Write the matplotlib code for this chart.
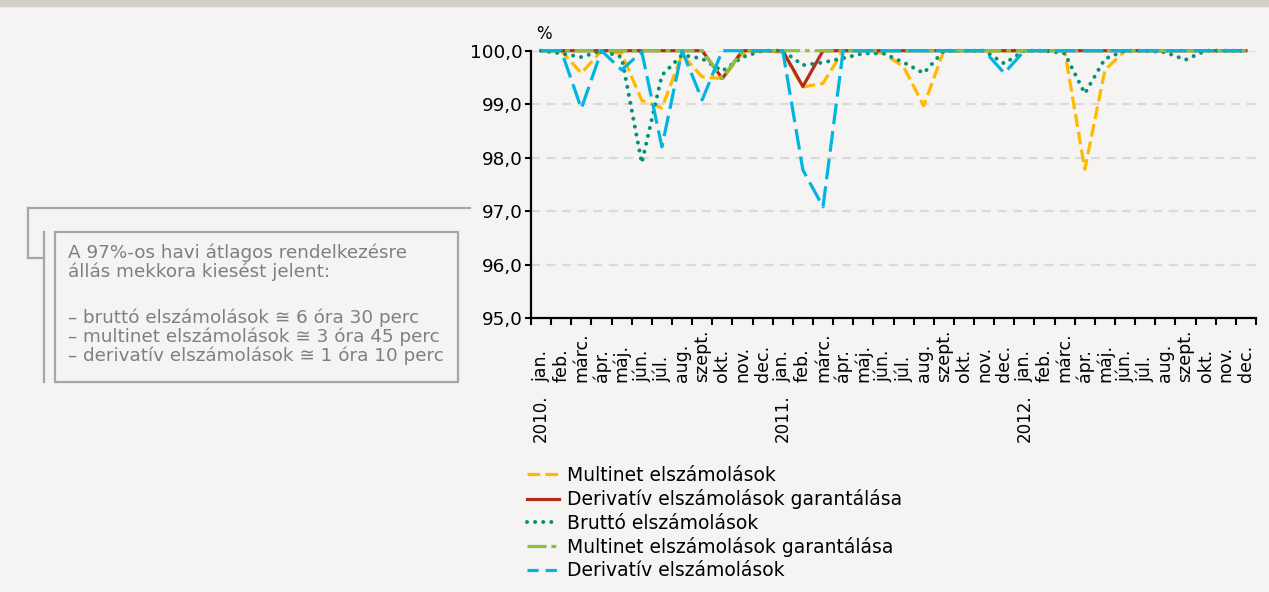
import matplotlib.pyplot as plt
import matplotlib.lines as mlines
import matplotlib.patches as mpatches
import numpy as np

# Rendelkezésre állás havi átlaga (%), 2010. jan. - 2012. dec.
honapok = ["jan.", "feb.", "márc.", "ápr.", "máj.", "jún.",
           "júl.", "aug.", "szept.", "okt.", "nov.", "dec."] * 3
evek = ["2010.", "2011.", "2012."]

multinet = [100, 100, 99.58, 100, 99.95, 99.07, 98.93, 99.93, 99.51, 99.48, 99.95, 100,
            99.97, 99.32, 99.39, 100, 100, 99.95, 99.70, 98.97, 100, 100, 100, 100,
            100, 100, 100, 97.78, 99.64, 100, 100, 100, 100, 100, 100, 100]
deriv_gar = [100, 100, 100, 100, 100, 100, 100, 100, 100, 99.48, 100, 100,
             100, 99.33, 100, 100, 100, 100, 100, 100, 100, 100, 100, 100,
             100, 100, 100, 100, 100, 100, 100, 100, 100, 100, 100, 100]
brutto = [100, 99.95, 99.88, 100, 99.88, 97.90, 99.54, 99.92, 99.85, 99.62, 99.88, 100,
          100, 99.73, 99.78, 99.86, 99.95, 99.95, 99.78, 99.58, 100, 100, 100, 99.76,
          100, 100, 99.95, 99.20, 99.85, 100, 100, 99.97, 99.83, 100, 100, 100]
multinet_gar = [100, 100, 100, 100, 100, 100, 100, 100, 100, 99.48, 100, 100,
                100, 100, 100, 100, 100, 100, 100, 100, 100, 100, 100, 100,
                100, 100, 100, 100, 100, 100, 100, 100, 100, 100, 100, 100]
derivativ = [100, 100, 98.92, 100, 99.64, 99.98, 98.20, 100, 99.08, 100, 100, 100,
             100, 97.77, 97.08, 100, 100, 100, 100, 100, 100, 100, 100, 99.58,
             100, 100, 100, 100, 100, 100, 100, 100, 100, 100, 100, 100]

sorozatok = ["Multinet elszámolások", "Derivatív elszámolások garantálása",
             "Bruttó elszámolások", "Multinet elszámolások garantálása",
             "Derivatív elszámolások"]

W, H = 1269, 592
bg = "#f5f4f2"
plt.rcParams["font.family"] = ["DejaVu Sans"]

fig = plt.figure(figsize=(W / 100, H / 100), dpi=100, facecolor=bg)


def px(x, y):
    # pixel -> figure fraction
    return x / W, 1 - y / H


# szürke sáv a tetején
fig.patches.append(mpatches.Rectangle((0, 1 - 6 / H), 1, 6 / H, transform=fig.transFigure,
                                      color="#d5cfca", zorder=0))

ax = fig.add_axes([531 / W, 1 - 318 / H, (1256 - 531) / W, 267.3 / H])
ax.set_facecolor(bg)

x = np.arange(len(honapok))
lw = 2.3
dot = dict(lw=2.9, dashes=(0.01, 2.0), dash_capstyle="round")
ax.plot(x, multinet, color="#ffb900", lw=lw, dashes=(4, 1.6), clip_on=False, zorder=3)
ax.plot(x, deriv_gar, color="#b52a18", lw=lw, clip_on=False, zorder=3)
ax.plot(x, brutto, color="#00937a", clip_on=False, zorder=3, **dot)
ax.plot(x, multinet_gar, color="#8cc13f", lw=lw, dashes=(6, 1.5, 1.5, 1.5), clip_on=False, zorder=3)
ax.plot(x, derivativ, color="#00b5e2", lw=lw, dashes=(6.5, 2.2), clip_on=False, zorder=3)

ax.set_xlim(-0.5, len(honapok) - 0.5)
ax.set_ylim(95, 100)
ax.set_yticks(np.arange(95, 101, 1))
ax.set_yticklabels([f"{v:.1f}".replace(".", ",") for v in np.arange(95, 101, 1)], fontsize=13.3)
ax.set_xticks(np.arange(-0.5, len(honapok), 1))
ax.set_xticklabels([])
ax.tick_params(axis="x", length=5, width=1.5, direction="out")
ax.tick_params(axis="y", length=4, width=1.5, direction="out", pad=2)

for v in range(96, 101):
    ax.axhline(v, color="#d9d9d9", lw=1.6, dashes=(4, 3), zorder=1)

for s in ["top", "right"]:
    ax.spines[s].set_visible(False)
for s in ["left", "bottom"]:
    ax.spines[s].set_linewidth(1.6)
    ax.spines[s].set_color("black")

# kategóriafeliratok (hónap + év)
tr = ax.get_xaxis_transform()
for i, h in enumerate(honapok):
    ax.text(i, -0.2394, h, rotation=90, ha="center", va="bottom", fontsize=12.5, transform=tr)
for k, e in enumerate(evek):
    ax.text(12 * k, -0.4639, e, rotation=90, ha="center", va="bottom", fontsize=12, transform=tr)

fig.text(*px(536, 34), "%", fontsize=12, ha="left", va="center")

# jelmagyarázat
kezelok = [
    mlines.Line2D([], [], color="#ffb900", lw=lw, dashes=(4, 1.6)),
    mlines.Line2D([], [], color="#b52a18", lw=lw),
    mlines.Line2D([], [], color="#00937a", **dot),
    mlines.Line2D([], [], color="#8cc13f", lw=lw, dashes=(6, 1.5, 1.5, 1.5)),
    mlines.Line2D([], [], color="#00b5e2", lw=lw, dashes=(3.5, 2.2)),
]
fig.legend(kezelok, sorozatok, loc="upper left", bbox_to_anchor=px(527, 466), frameon=False,
           fontsize=13.5, handlelength=1.7, handletextpad=0.42, labelspacing=0.23,
           borderpad=0, borderaxespad=0)

# magyarázó doboz a 97%-os szinthez
szurke = "#a6a6a6"
for (x0, y0), (x1, y1) in [((28, 208), (470, 208)), ((28, 208), (28, 258)),
                           ((28, 258), (44, 258)), ((44, 232), (44, 382))]:
    fig.add_artist(mlines.Line2D([x0 / W, x1 / W], [1 - y0 / H, 1 - y1 / H],
                                 color=szurke, lw=1.6, transform=fig.transFigure))
fig.add_artist(mpatches.Rectangle(px(55, 382), (458 - 55) / W, (382 - 232) / H, fill=False,
                                  edgecolor=szurke, lw=1.6, transform=fig.transFigure))

sorok = [("A 97%-os havi átlagos rendelkezésre", 253),
         ("állás mekkora kiesést jelent:", 272),
         ("– bruttó elszámolások ≅ 6 óra 30 perc", 318),
         ("– multinet elszámolások ≅ 3 óra 45 perc", 337),
         ("– derivatív elszámolások ≅ 1 óra 10 perc", 356)]
for szoveg, yy in sorok:
    fig.text(*px(68, yy), szoveg, fontsize=13.2, color="#7f7f7f", ha="left", va="center")

fig.savefig("out.png", dpi=100, facecolor=bg)
